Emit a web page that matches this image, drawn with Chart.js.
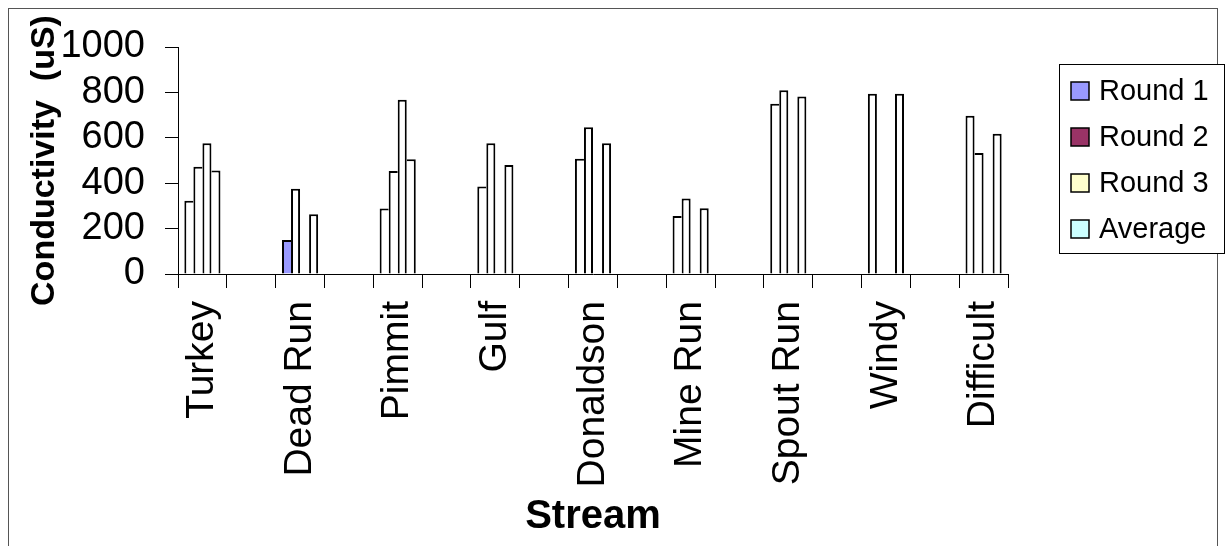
<!DOCTYPE html>
<html>
<head>
<meta charset="utf-8">
<script src="https://cdn.jsdelivr.net/npm/chart.js@4/dist/chart.umd.min.js"></script>
<style>
  html, body { margin: 0; padding: 0; background: #fff; }
  canvas { display: block; }
</style>
</head>
<body>
<canvas id="chart" width="1226" height="546"></canvas>
<script>
// Conductivity readings (uS) per stream and sampling round
const streams = ['Turkey', 'Dead Run', 'Pimmit', 'Gulf', 'Donaldson', 'Mine Run', 'Spout Run', 'Windy', 'Difficult'];
const round1  = [323, 150, 289, 385, 508, 255, 750, 794, 697];
const round2  = [473, 376, 454, 576, 646, 333, 810, null, 533];
const round3  = [576, null, 768, null, null, null, null, null, null];
const average = [456, 263, 506, 480, 576, 290, 782, 794, 618];
const yTicks  = [0, 200, 400, 600, 800, 1000];

const seriesNames  = ['Round 1', 'Round 2', 'Round 3', 'Average'];
const seriesColors = ['#9999FF', '#993366', '#FFFFCC', '#CCFFFF'];
// only the Dead Run round-1 bar carries its series colour
const filledBars = [[1], [], [], []];

const FONT = "'Liberation Sans', Arial, sans-serif";

// streams sit on every other category slot, with an empty slot between them
const labels = [];
streams.forEach((s, i) => { labels.push(s); if (i < streams.length - 1) labels.push(''); });
function spread(values) {
  const out = [];
  values.forEach((v, i) => { out.push(v); if (i < values.length - 1) out.push(null); });
  return out;
}
const seriesValues = [round1, round2, round3, average];

// adjacent bars share one outline: the taller bar of a pair owns the common edge
function edgeWidths(si, streamIdx) {
  const cur = seriesValues[si][streamIdx];
  const prev = si > 0 ? seriesValues[si - 1][streamIdx] : null;
  const next = si < seriesValues.length - 1 ? seriesValues[si + 1][streamIdx] : null;
  const W = 2;
  return {
    top: W,
    bottom: 0,
    left: (prev == null || prev < cur) ? W : 0,
    right: (next == null || next <= cur) ? W : 0
  };
}

const datasets = seriesValues.map((vals, si) => ({
  label: seriesNames[si],
  data: spread(vals),
  backgroundColor: ctx => {
    const streamIdx = ctx.dataIndex / 2;
    return filledBars[si].includes(streamIdx) ? seriesColors[si] : '#FFFFFF';
  },
  borderColor: '#000000',
  borderWidth: ctx => (ctx.dataIndex % 2 === 0 ? edgeWidths(si, ctx.dataIndex / 2) : 0),
  borderSkipped: false,
  barPercentage: 1.0,
  categoryPercentage: 0.74
}));

const framePlugin = {
  id: 'frame',
  beforeDraw(chart) {
    const c = chart.ctx;
    c.save();
    c.fillStyle = '#fff';
    c.fillRect(0, 0, chart.width, chart.height);
    c.strokeStyle = '#555';
    c.lineWidth = 1;
    c.strokeRect(8.5, 8.5, 1209, 600);
    c.restore();
  }
};

const legendPlugin = {
  id: 'boxLegend',
  afterDraw(chart) {
    const c = chart.ctx;
    const x0 = 1059.5, y0 = 64.5, w = 165, h = 189;
    c.save();
    c.fillStyle = '#fff';
    c.fillRect(x0, y0, w, h);
    c.strokeStyle = '#000';
    c.lineWidth = 1;
    c.strokeRect(x0, y0, w, h);
    c.font = '29px ' + FONT;
    c.textBaseline = 'middle';
    c.textAlign = 'left';
    chart.data.datasets.forEach((ds, i) => {
      const cy = 91 + i * 46;
      c.fillStyle = seriesColors[i];
      c.fillRect(1071, cy - 9, 18, 18);
      c.strokeStyle = '#000';
      c.lineWidth = 1.5;
      c.strokeRect(1071, cy - 9, 18, 18);
      c.fillStyle = '#000';
      c.fillText(ds.label, 1099, cy + 1);
    });
    c.restore();
  }
};

new Chart(document.getElementById('chart'), {
  type: 'bar',
  data: { labels: labels, datasets: datasets },
  plugins: [framePlugin, legendPlugin],
  options: {
    responsive: false,
    animation: false,
    layout: { padding: { left: 10, top: 47, right: 218, bottom: 0 } },
    plugins: { legend: { display: false }, tooltip: { enabled: false } },
    scales: {
      x: {
        offset: true,
        grid: { display: true, offset: true, drawOnChartArea: false, drawTicks: true, tickLength: 14, color: '#000', lineWidth: 1 },
        border: { display: true, color: '#000', width: 1 },
        ticks: {
          autoSkip: false, maxRotation: 90, minRotation: 90, padding: 13,
          color: '#000', font: { family: FONT, size: 39 }
        },
        title: {
          display: true, text: 'Stream', color: '#000',
          font: { family: FONT, size: 40, weight: 'bold', lineHeight: 1.2 },
          padding: { top: 0, bottom: 5 }
        },
        afterFit(scale) { scale.height = 272; }
      },
      y: {
        min: 0, max: 1000,
        afterBuildTicks(scale) { scale.ticks = yTicks.map(v => ({ value: v })); },
        grid: { display: true, drawOnChartArea: false, drawTicks: true, tickLength: 13, color: '#000', lineWidth: 1 },
        border: { display: true, color: '#000', width: 1 },
        ticks: {
          autoSkip: false, padding: 20, color: '#000', font: { family: FONT, size: 38 },
          callback: v => String(v)
        },
        title: {
          display: true, text: 'Conductivity  (uS)', color: '#000',
          font: { family: FONT, size: 34, weight: 'bold', lineHeight: 1.2 },
          padding: { top: 14, bottom: 0 }
        },
        afterFit(scale) { scale.width = 168; }
      }
    }
  }
});
</script>
</body>
</html>
